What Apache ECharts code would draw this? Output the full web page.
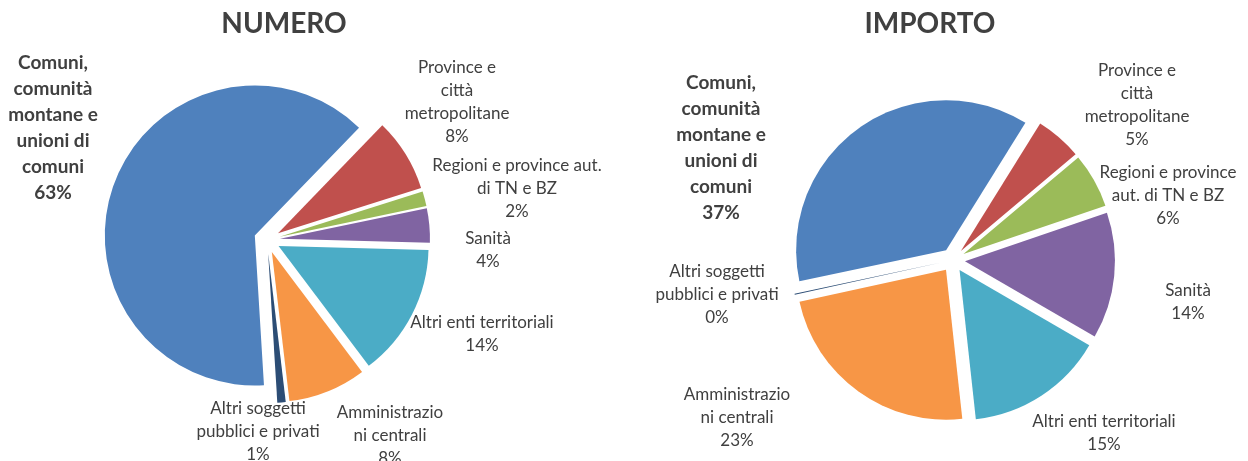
<!DOCTYPE html>
<html>
<head>
<meta charset="utf-8">
<script src="https://cdn.jsdelivr.net/npm/echarts@6/dist/echarts.min.js"></script>
<style>
html, body { margin: 0; padding: 0; background: #fff; }
#chart { width: 1248px; height: 461px; }
</style>
</head>
<body>
<div id="chart"></div>
<script>
var categories = ['Comuni, comunità montane e unioni di comuni', 'Province e città metropolitane',
  'Regioni e province aut. di TN e BZ', 'Sanità', 'Altri enti territoriali',
  'Amministrazioni centrali', 'Altri soggetti pubblici e privati'];
var numero = [63.2, 7.9, 1.6, 3.7, 14.3, 8.4, 0.9];
var importo = [37.2, 5.0, 5.9, 13.6, 14.9, 23.3, 0.1];

// testo delle etichette come va a capo nel grafico
var labelsNumero = ['Comuni,\ncomunità\nmontane e\nunioni di\ncomuni', 'Province e\ncittà\nmetropolitane',
  'Regioni e province aut.\ndi TN e BZ', 'Sanità', 'Altri enti territoriali',
  'Amministrazio\nni centrali', 'Altri soggetti\npubblici e privati'];
var labelsImporto = ['Comuni,\ncomunità\nmontane e\nunioni di\ncomuni', 'Province e\ncittà\nmetropolitane',
  'Regioni e province\naut. di TN e BZ', 'Sanità', 'Altri enti territoriali',
  'Amministrazio\nni centrali', 'Altri soggetti\npubblici e privati'];

var colors = ['#4F81BD', '#C0504D', '#9BBB59', '#8064A2', '#4BACC6', '#F79646', '#2C4D75'];

// centro del blocco di testo di ogni etichetta
var posNumero = [[53, 128], [457, 102], [517, 189], [488, 250], [482, 334], [390, 436], [258, 432]];
var posImporto = [[721, 148], [1137, 105], [1168, 196], [1188, 302], [1104, 433], [737, 418], [717, 295]];

var font = 'Lato, "Open Sans", sans-serif';

function makeSeries(values, labels, pos, center, startAngle, offset) {
  var total = values.reduce(function (a, b) { return a + b; }, 0);
  // spostamento della fetta esplosa (lo stato "select" non entra in labelRect)
  var shift = [];
  var cum = 0;
  values.forEach(function (v) {
    var mid = (90 - startAngle + (cum + v / 2) / total * 360) * Math.PI / 180;
    shift.push([Math.sin(mid) * offset, -Math.cos(mid) * offset]);
    cum += v;
  });
  return {
    type: 'pie',
    center: center,
    radius: 150,
    startAngle: startAngle,
    clockwise: true,
    selectedMode: 'multiple',
    selectedOffset: offset,
    avoidLabelOverlap: false,
    animation: false,
    emphasis: { disabled: true },
    select: { itemStyle: { borderWidth: 0 } },
    label: {
      fontFamily: font,
      fontSize: 17,
      lineHeight: 23,
      color: '#404040',
      formatter: function (p) {
        return labels[p.dataIndex] + '\n' + Math.round(p.percent) + '%';
      }
    },
    labelLine: { show: false },
    labelLayout: function (p) {
      var r = p.labelRect;
      var i = p.dataIndex;
      var ax = r.x + (p.align === 'left' ? 0 : p.align === 'right' ? r.width : r.width / 2);
      var ay = r.y + (p.verticalAlign === 'top' ? 0 : p.verticalAlign === 'bottom' ? r.height : r.height / 2);
      return {
        dx: pos[i][0] - ax - shift[i][0],
        dy: pos[i][1] - ay - shift[i][1],
        align: 'center',
        verticalAlign: p.verticalAlign
      };
    },
    data: values.map(function (v, i) {
      var item = { name: categories[i], value: v, selected: true, itemStyle: { color: colors[i] } };
      if (i === 0) item.label = { fontWeight: 'bold', fontSize: 19, lineHeight: 26 };
      return item;
    })
  };
}

var myChart = echarts.init(document.getElementById('chart'));
myChart.setOption({
  animation: false,
  graphic: [
    { type: 'text', x: 284, y: 24, style: { text: 'NUMERO', font: 'bold 28px ' + font, fill: '#404040', align: 'center', verticalAlign: 'middle' } },
    { type: 'text', x: 930, y: 24, style: { text: 'IMPORTO', font: 'bold 28px ' + font, fill: '#404040', align: 'center', verticalAlign: 'middle' } }
  ],
  series: [
    makeSeries(numero, labelsNumero, posNumero, [267, 240], -86.5, 13),
    makeSeries(importo, labelsImporto, posImporto, [953, 260], -168, 12)
  ]
});
</script>
</body>
</html>
